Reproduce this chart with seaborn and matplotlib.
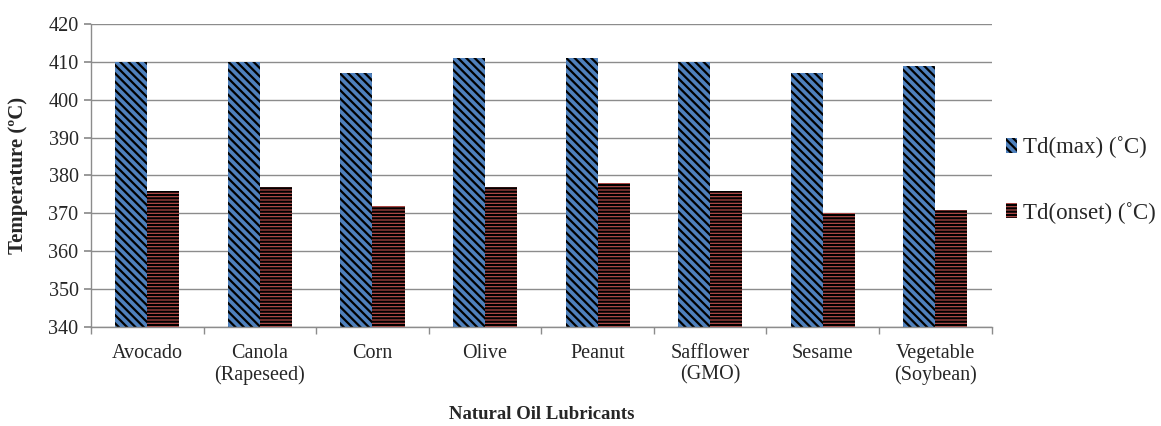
import matplotlib
matplotlib.use("Agg")
import matplotlib.pyplot as plt
import seaborn as sns
import pandas as pd
import numpy as np

oils = ["Avocado", "Canola\n(Rapeseed)", "Corn", "Olive", "Peanut",
        "Safflower\n(GMO)", "Sesame", "Vegetable\n(Soybean)"]
td_max = [410, 410, 407, 411, 411, 410, 407, 409]
td_onset = [376, 377, 372, 377, 378, 376, 370, 371]
series = ["Td(max) (˚C)", "Td(onset) (˚C)"]
yticks = list(range(340, 421, 10))

df = pd.DataFrame({
    "oil": oils * 2,
    "temp": td_max + td_onset,
    "series": [series[0]] * len(oils) + [series[1]] * len(oils),
})

sns.set_theme(style="white")
plt.rcParams["font.family"] = ["Liberation Serif", "DejaVu Serif"]
plt.rcParams["hatch.linewidth"] = 1.6

fig = plt.figure(figsize=(11.61, 4.26), dpi=100)
ax = fig.add_axes([0.0784, 0.2324, 0.7757, 0.7113])

colors = ["#4F81BD", "#C0504D"]
sns.barplot(data=df, x="oil", y="temp", hue="series", palette=colors,
            width=0.57, gap=0, ax=ax, legend=False, saturation=1)

hatches = ["\\\\\\\\", "-----"]
n = len(oils)
for i, bar in enumerate(ax.patches[:2 * n]):
    bar.set_hatch(hatches[i // n])
    bar.set_edgecolor("black")
    bar.set_linewidth(0)

ax.set_ylim(340, 420)
ax.set_yticks(yticks)
ax.set_xlim(-0.5, n - 0.5)
ax.yaxis.grid(True, color="#8c8c8c", linewidth=1)
ax.set_axisbelow(True)
for s in ["top", "right"]:
    ax.spines[s].set_visible(False)
for s in ["left", "bottom"]:
    ax.spines[s].set_color("#8c8c8c")
    ax.spines[s].set_linewidth(1)

ax.tick_params(axis="y", which="major", left=True, length=5, color="#8c8c8c",
               labelsize=14.5, pad=4)
ax.tick_params(axis="x", which="major", bottom=False, labelsize=14.5, pad=6)
ax.set_xticks(np.arange(-0.5, n, 1), minor=True)
ax.tick_params(axis="x", which="minor", bottom=True, length=5, color="#8c8c8c")

ax.set_xlabel("Natural Oil Lubricants", fontsize=13.5, fontweight="bold")
ax.xaxis.set_label_coords(0.5, -0.26)
ax.set_ylabel("Temperature (ºC)", fontsize=15, fontweight="bold")
ax.yaxis.set_label_coords(-0.07, 0.5)

handles = [plt.Rectangle((0, 0), 1, 1, facecolor=c, hatch=h, edgecolor="black", linewidth=0)
           for c, h in zip(colors, hatches)]
fig.legend(handles, series, loc="upper left", bbox_to_anchor=(0.8665, 0.68),
           frameon=False, fontsize=16.5, handlelength=0.5, handleheight=0.65,
           handletextpad=0.25, labelspacing=1.9, borderaxespad=0, borderpad=0)

fig.savefig("out.png", dpi=100)
